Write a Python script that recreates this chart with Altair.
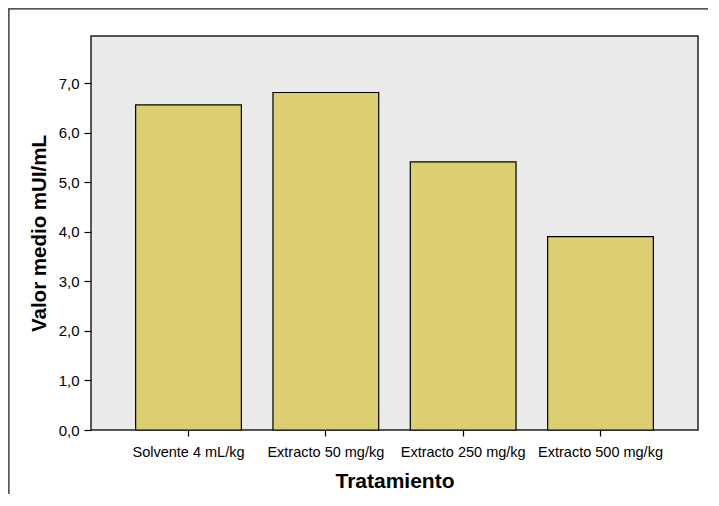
import altair as alt
import pandas as pd

categories = ["Solvente 4 mL/kg", "Extracto 50 mg/kg", "Extracto 250 mg/kg", "Extracto 500 mg/kg"]
values = [6.56, 6.81, 5.41, 3.90]
y_ticks = [0, 1, 2, 3, 4, 5, 6, 7]

df = pd.DataFrame({"Tratamiento": categories, "Valor": values})

bars = alt.Chart(df).mark_bar(color="#DCCF72", stroke="black", strokeWidth=1.2).encode(
    x=alt.X("Tratamiento:N", sort=categories,
            scale=alt.Scale(paddingInner=0.23, paddingOuter=0.325),
            axis=alt.Axis(title="Tratamiento", labelAngle=0, labelFont="Liberation Sans",
                          labelFontSize=14.5, labelColor="black", labelPadding=9,
                          tickColor="black", tickSize=6, tickWidth=1.2,
                          domain=False, titleFont="Liberation Sans", titleFontSize=21,
                          titleFontWeight="bold", titleColor="black", titlePadding=12)),
    y=alt.Y("Valor:Q", scale=alt.Scale(domain=[0, 7.95], nice=False),
            axis=alt.Axis(title="Valor medio mUI/mL", values=y_ticks,
                          labelExpr="replace(format(datum.value, '.1f'), '.', ',')",
                          labelFont="Liberation Sans", labelFontSize=15, labelColor="black",
                          labelPadding=5, tickColor="black", tickSize=7, tickWidth=1.2,
                          domain=False, grid=False, titleFont="Liberation Sans",
                          titleFontSize=20.5, titleFontWeight="bold", titleColor="black",
                          titlePadding=9)),
)

frame = alt.Chart(df).mark_rect(fill=None, stroke="#555555", strokeWidth=1.5).encode(
    x=alt.value(-82.5), x2=alt.value(660), y=alt.value(-27.5), y2=alt.value(600)
)

chart = alt.layer(bars, frame).properties(
    width=607, height=394,
    autosize=alt.AutoSizeParams(type="none"),
    padding={"left": 83, "top": 28, "right": 10, "bottom": 64},
    background="white",
).configure_view(fill="#E9EAE9", stroke="#222222", strokeWidth=1.5)

chart.save("out.html", embed_options={"renderer": "svg", "actions": False})
